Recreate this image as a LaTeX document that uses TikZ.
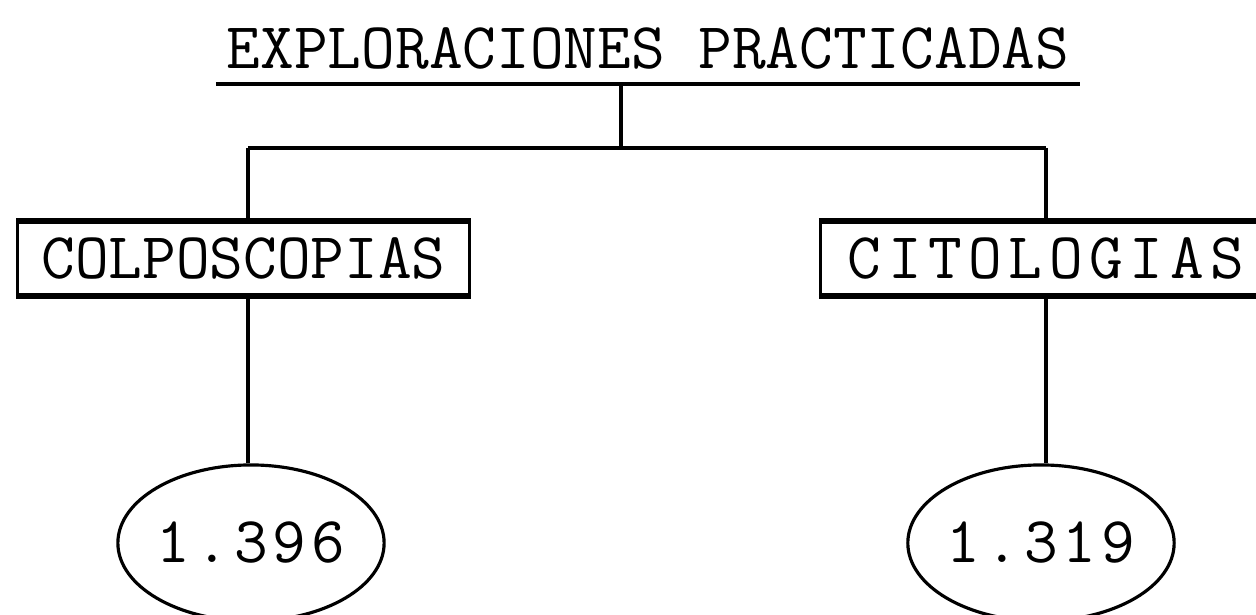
\documentclass[tikz,border=0pt]{standalone}
\usepackage{fontspec}
\usetikzlibrary{shapes.geometric}

\tikzset{
  typed/.style={font=\ttfamily\fontsize{18.6}{20}\selectfont, inner sep=0pt},
  rule/.style={line width=1.4pt},
  stem/.style={line width=0.9pt},
  label box/.style={typed, draw, stem, minimum width=4.51cm, minimum height=0.73cm},
  count/.style={typed, draw, stem, ellipse, minimum width=2.55cm, minimum height=1.56cm},
}
% typewriter letter spacing
\newdimen\spreadgap
\def\spreadchars#1{\ifx#1\relax\else\kern\spreadgap#1\expandafter\spreadchars\fi}
\newcommand{\spaced}[2]{\spreadgap=#1\relax\kern-\spreadgap\spreadchars#2\relax}

\begin{document}
\begin{tikzpicture}[x=0.01cm, y=-0.01cm]
    \useasboundingbox (0,0) rectangle (1256,615);

    % Title
    \node[typed] (title) at (648,48) {EXPLORACIONES PRACTICADAS};
    \draw[rule] (216,84) -- (1080,84);

    % Split
    \coordinate (stem) at (621,84);
    \coordinate (split) at (621,148);
    \coordinate (leftend) at (248,148);
    \coordinate (rightend) at (1046,148);
    \draw[stem] (stem) -- (split);
    \draw[rule] (leftend) -- (rightend);

    % Boxes
    \node[label box] (colpo) at (243.5,258.5) {COLPOSCOPIAS};
    \node[label box] (cito) at (1046,258.5) {\spaced{1.88pt}{CITOLOGIAS}};
    \draw[rule] (colpo.north west) -- (colpo.north east);
    \draw[rule] (colpo.south west) -- (colpo.south east);
    \draw[rule] (cito.north west) -- (cito.north east);
    \draw[rule] (cito.south west) -- (cito.south east);

    % Totals
    \node[count] (colponum) at (251,543) {\spaced{1.42pt}{1.396}};
    \node[count] (citonum) at (1041,543) {\spaced{1.42pt}{1.319}};

    % Branches
    \draw[stem] (leftend) -- (leftend |- colpo.north);
    \draw[stem] (rightend) -- (rightend |- cito.north);
    \draw[stem] (leftend |- colpo.south) -- (leftend |- colponum.north);
    \draw[stem] (rightend |- cito.south) -- (rightend |- citonum.north);
\end{tikzpicture}
\end{document}
